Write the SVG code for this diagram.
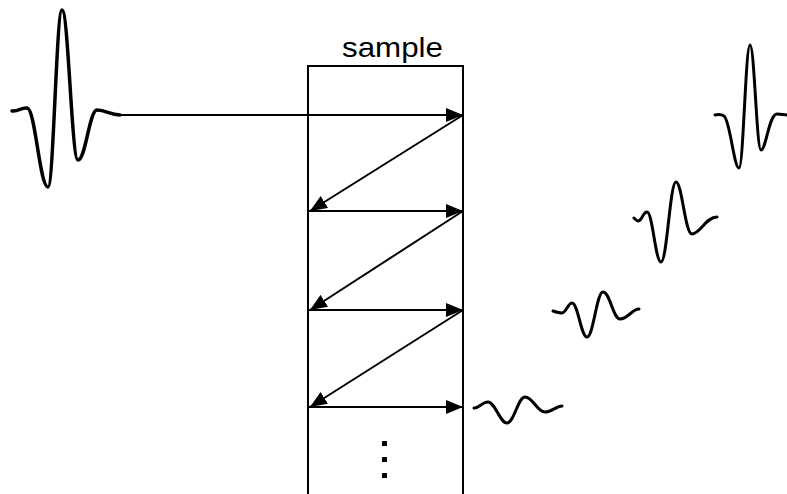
<svg xmlns="http://www.w3.org/2000/svg" width="787" height="494" viewBox="0 0 787 494">
<style>
.wave{fill:none;stroke:#000;stroke-linecap:round;stroke-linejoin:round}
.conn{fill:none;stroke:#000;stroke-width:2}
.lbl{font-family:"Liberation Sans",Arial,sans-serif;font-size:28px;fill:#000}
</style>
<defs>
<marker id="ah" markerUnits="userSpaceOnUse" markerWidth="17" markerHeight="14" refX="17" refY="7" orient="auto">
<path d="M0,0 L17,7 L0,14 z" fill="#000"/>
</marker>
</defs>
<rect width="787" height="494" fill="#fff"/>
<g id="sample">
<path d="M308,494 V66 H463 V494" fill="none" stroke="#000" stroke-width="2"/>
<text class="lbl" x="342" y="57" textLength="101" lengthAdjust="spacingAndGlyphs">sample</text>
<rect x="382" y="441" width="5" height="5"/>
<rect x="382" y="457" width="5" height="5"/>
<rect x="382" y="473" width="5" height="5"/>
</g>
<g id="pulse-in">
<path class="wave" stroke-width="3.5" d="M12,111 C18,112 22,107 27,108 C35.4,108 39.6,187 48,187 C53.6,187 56.4,10 62,10 C68.4,10 71.6,160 78,160 C85.6,160 89.4,110 97,110 C106,110 110,115 120,115"/>
</g>
<g id="echo-1">
<path class="wave" stroke-width="3" d="M715,115 C719,114 721,114 724,116 C730,120 734,168 739,168 C743.4,168 745.6,45 750,45 C754.4,45 756.6,150 761,150 C766,150 769,114 777,114 C781,114 784,115 787,115"/>
</g>
<g id="echo-2">
<path class="wave" stroke-width="3" d="M634,218 C636,220 637,221 638,221 C642,221 643,212 647,212 C652.6,212 655.4,262 661,262 C667,262 670,182 676,182 C682,182 685,234 692,234 C700,234 706,217 717,217"/>
</g>
<g id="echo-3">
<path class="wave" stroke-width="3" d="M553,311 C556,312 559,313 562,313 C566,313 568,303 572,303 C578,303 581,337 587,337 C593.4,337 596.6,292 603,292 C610,292 613,319 620,319 C628,319 632,309 639,309"/>
</g>
<g id="echo-4">
<path class="wave" stroke-width="3" d="M474,408 C478,409 482,402 488,402 C495,402 500,423 507,423 C514,423 518,397 525,397 C533,397 537,412 545,412 C552,412 556,406 562,406"/>
</g>
<g id="connectors">
<line class="conn" x1="120" y1="115" x2="463" y2="115" marker-end="url(#ah)"/>
<line class="conn" x1="463" y1="115" x2="310" y2="211" marker-end="url(#ah)"/>
<line class="conn" x1="308" y1="211" x2="463" y2="211" marker-end="url(#ah)"/>
<line class="conn" x1="463" y1="211" x2="310" y2="310" marker-end="url(#ah)"/>
<line class="conn" x1="308" y1="310" x2="463" y2="310" marker-end="url(#ah)"/>
<line class="conn" x1="463" y1="310" x2="310" y2="407" marker-end="url(#ah)"/>
<line class="conn" x1="308" y1="407" x2="463" y2="407" marker-end="url(#ah)"/>
</g>
</svg>
